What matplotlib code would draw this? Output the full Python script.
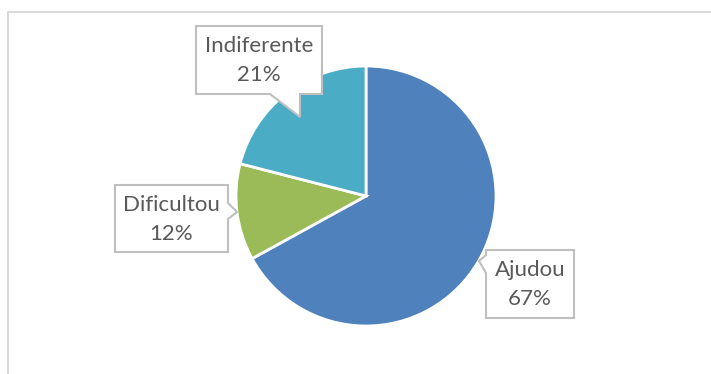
import matplotlib.pyplot as plt
from matplotlib.patches import Polygon

# Dados
categorias = ["Ajudou", "Dificultou", "Indiferente"]
percentuais = [67, 12, 21]
cores = ["#4F81BD", "#9BBB59", "#4BACC6"]

W, H = 711, 374

# caixas das legendas (esquerda, topo, direita, base) em pixels, y de cima para baixo
caixas = {
    "Ajudou": (486, 250, 574, 318),
    "Dificultou": (115, 185, 228, 252),
    "Indiferente": (196, 26, 322, 94),
}
# bico de cada caixa
bicos = {
    "Ajudou": [(486, 273), (479, 261), (486, 255)],
    "Dificultou": [(228, 203), (237, 212), (228, 219)],
    "Indiferente": [(300, 94), (300, 117), (270, 94)],
}


def y(v):
    return H - v


def caixa_com_bico(ax, nome):
    x0, y0, x1, y1 = caixas[nome]
    b = bicos[nome]
    if nome == "Ajudou":
        pts = [(x0, y0), (x1, y0), (x1, y1), (x0, y1)] + b
    elif nome == "Dificultou":
        pts = [(x0, y0), (x1, y0)] + b + [(x1, y1), (x0, y1)]
    else:
        pts = [(x0, y0), (x1, y0), (x1, y1)] + b + [(x0, y1)]
    pts = [(px, y(py)) for px, py in pts]
    ax.add_patch(Polygon(pts, closed=True, facecolor="white",
                         edgecolor="#BFBFBF", linewidth=1.5, zorder=3))
    cx = (x0 + x1) / 2
    cy = (y0 + y1) / 2
    i = categorias.index(nome)
    ax.text(cx, y(cy - 14), nome, ha="center", va="center",
            fontsize=16, color="#595959", family="Lato", zorder=4)
    ax.text(cx, y(cy + 15), f"{percentuais[i]}%", ha="center", va="center",
            fontsize=16, color="#595959", family="Lato", zorder=4)


fig = plt.figure(figsize=(W / 100, H / 100), dpi=100)
ax = fig.add_axes([0, 0, 1, 1])
ax.set_xlim(0, W)
ax.set_ylim(0, H)
ax.axis("off")

# moldura do gráfico
ax.plot([7.5, 7.5, W], [0, y(12), y(12)], color="#D9D9D9", linewidth=1.5)

ax.pie(percentuais, colors=cores, startangle=90, counterclock=False,
       center=(366, y(196)), radius=130,
       wedgeprops=dict(edgecolor="white", linewidth=2))
ax.set_xlim(0, W)
ax.set_ylim(0, H)
ax.set_aspect("auto")

for nome in categorias:
    caixa_com_bico(ax, nome)

fig.savefig("out.png", dpi=100)
